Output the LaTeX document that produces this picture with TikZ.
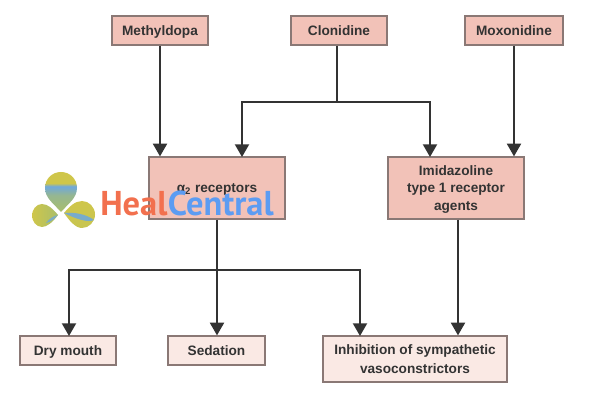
\documentclass[tikz,border=0pt]{standalone}
\usepackage{fontspec}
\setmainfont{Liberation Sans}
\newfontfamily\logofont{PT Sans}
\definecolor{darkpink}{HTML}{F2C2B8}
\definecolor{lightpink}{HTML}{FAE9E4}
\definecolor{boxline}{HTML}{8A7875}
\definecolor{healorange}{HTML}{F2704E}
\definecolor{healblue}{HTML}{5C9CF2}
\definecolor{petalyellow}{HTML}{CFC64A}
\definecolor{petalblue}{HTML}{6FA8DC}
\definecolor{petalgreen}{HTML}{A9BE6A}
\usetikzlibrary{arrows.meta}
\pgfdeclareverticalshading{toppetal}{100bp}{color(0bp)=(petalgreen); color(25bp)=(petalgreen); color(46bp)=(petalblue!35!petalgreen); color(57bp)=(petalblue); color(61bp)=(petalyellow); color(100bp)=(petalyellow)}
\tikzset{
	drug/.style={draw=boxline, line width=0.9pt, fill=darkpink, text=black!80, align=center,
		font=\fontsize{9.7}{12.2}\selectfont\bfseries, inner sep=0pt, minimum height=0.725cm, text depth=0pt},
	effect/.style={drug, fill=lightpink},
	flow/.style={line width=1.2pt, draw=black!80},
	flowtip/.style={flow, -{Triangle[length=9pt,width=10pt]}},
	logotext/.style={anchor=base west, inner sep=0pt, font=\logofont\bfseries\fontsize{24.5}{25}\selectfont}
}
\begin{document}
\begin{tikzpicture}[x=0.025cm,y=-0.025cm]
		\useasboundingbox (0,0) rectangle (600,400);
		
		% top row
		\node[drug, minimum width=2.4cm] (methyldopa) at (160,30.5) {Methyldopa};
		\node[drug, minimum width=2.4cm] (clonidine) at (339,30.5) {Clonidine};
		\node[drug, minimum width=2.45cm] (moxonidine) at (514,30.5) {Moxonidine};
		
		% receptors
		\node[drug, minimum width=3.4cm, minimum height=1.55cm] (alpha) at (217,188) {α\textsubscript{2} receptors};
		\node[drug, minimum width=3.4cm, minimum height=1.55cm] (imidazoline) at (456,188) {Imidazoline\\type 1 receptor\\agents};
		
		% effects
		\node[effect, minimum width=2.4cm] (drymouth) at (68,350.5) {Dry mouth};
		\node[effect, minimum width=2.425cm] (sedation) at (216.5,350.5) {Sedation};
		\node[effect, minimum width=4.6cm, minimum height=1.15cm] (inhibition) at (415,359) {Inhibition of sympathetic\\[1.5pt]vasoconstrictors};
		
		% free ends of the connectors
		\coordinate (clonidinejoin) at (337,102);
		\coordinate (alphain) at (242,157);
		\coordinate (imidazolinein) at (430,157);
		\coordinate (alphajoin) at (217,270);
		\coordinate (drymouthin) at (69,336);
		\coordinate (inhibitionin) at (360,336);
		
		\draw[flowtip] (methyldopa.south) -- (methyldopa.south |- alpha.north);
		\draw[flowtip] (moxonidine.south) -- (moxonidine.south |- imidazoline.north);
		\draw[flow] (clonidine.south -| clonidinejoin) -- (clonidinejoin);
		\draw[flowtip] (clonidinejoin) -| (alphain);
		\draw[flowtip] (clonidinejoin) -| (imidazolinein);
		\draw[flow] (alpha.south) -- (alphajoin);
		\draw[flowtip] (alphajoin) -| (drymouthin);
		\draw[flowtip] (alphajoin) -- (alphajoin |- sedation.north);
		\draw[flowtip] (alphajoin) -| (inhibitionin);
		\draw[flowtip] (imidazoline.south -| 458,0) -- (inhibition.north -| 458,0);
		
		% logo over the picture
		\shade[shading=toppetal]
			(61,212) .. controls (54,204) and (45,198) .. (45,188)
			.. controls (45,179) and (52,172) .. (61,172)
			.. controls (70,172) and (77,179) .. (77,188)
			.. controls (77,198) and (68,204) .. (61,212) -- cycle;
		\shade[left color=petalyellow, right color=petalgreen]
			(58,215) .. controls (53,222) and (47,227) .. (42,227)
			.. controls (36,227) and (32,221) .. (32,215.5)
			.. controls (32,210) and (36,204) .. (42,204)
			.. controls (48,204) and (53,209) .. (58,215) -- cycle;
		\fill[petalblue!80!petalgreen]
			(58,215) .. controls (53,216) and (49,219) .. (46,223)
			.. controls (51,222) and (54,219) .. (58,215) -- cycle;
		\shade[top color=petalyellow, bottom color=petalyellow!80!petalgreen]
			(64,213) .. controls (69,207) and (75,201) .. (82,201)
			.. controls (89,201) and (95,207) .. (95,214.5)
			.. controls (95,222) and (89,228) .. (82,228)
			.. controls (75,228) and (69,220) .. (64,213) -- cycle;
		\fill[petalblue!85!petalgreen]
			(64,213) .. controls (74,212) and (86,214) .. (94,220)
			.. controls (88,223) and (76,219) .. (64,213) -- cycle;
		\node[logotext, text=healorange] (heal) at (100,216) {Heal};
		\node[logotext, text=healblue] (central) at (heal.base east) {Central};
		
\end{tikzpicture}
\end{document}
